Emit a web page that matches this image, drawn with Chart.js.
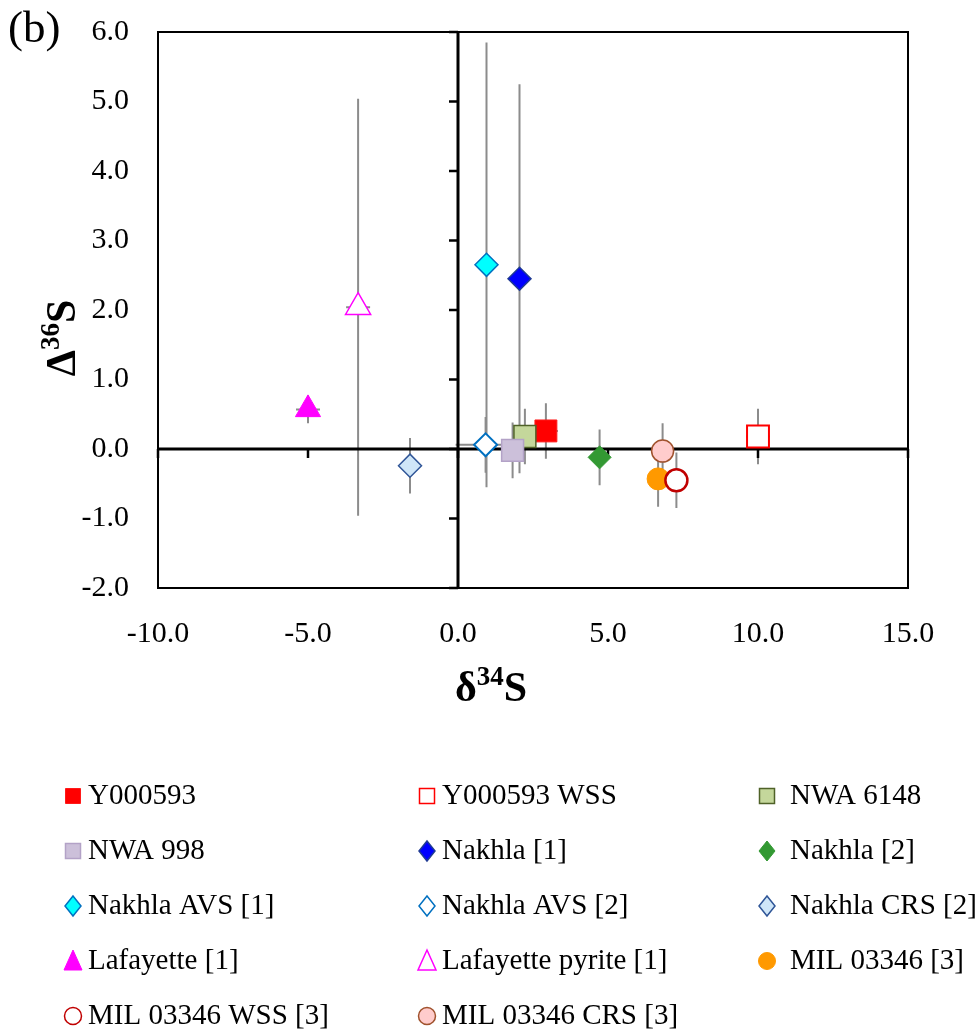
<!DOCTYPE html>
<html>
<head>
<meta charset="utf-8">
<script src="https://cdn.jsdelivr.net/npm/chart.js@4.4.1/dist/chart.umd.min.js"></script>
<style>
    html, body { margin: 0; padding: 0; background: #ffffff; }
    canvas { display: block; }
</style>
</head>
<body>
<canvas id="sulfurChart" width="980" height="1032"></canvas>
<script>
const sampleNames = [
    'Y000593', 'Y000593 WSS', 'NWA 6148',
    'NWA 998', 'Nakhla [1]', 'Nakhla [2]',
    'Nakhla AVS [1]', 'Nakhla AVS [2]', 'Nakhla CRS [2]',
    'Lafayette [1]', 'Lafayette pyrite [1]', 'MIL 03346 [3]',
    'MIL 03346 WSS [3]', 'MIL 03346 CRS [3]',
];
const delta34S = [2.93, 10.0, 2.23, 1.82, 2.05, 4.72, 0.95, 0.92, -1.6, -5.0, -3.33, 6.67, 7.28, 6.82];
const cap36S = [0.26, 0.18, 0.18, -0.02, 2.45, -0.12, 2.65, 0.06, -0.24, 0.57, 2.04, -0.43, -0.45, -0.03];
const delta34SErr = [0.4, 0.4, 0.3, 0.3, 0.3, 0.3, 0.3, 1.0, 0.3, 0.4, 0.4, 0.3, 0.3, 0.3];
const cap36SErr = [0.4, 0.4, 0.4, 0.4, 2.8, 0.4, 3.2, 0.4, 0.4, 0.2, 3.0, 0.4, 0.4, 0.4];
const xTicks = [-10, -5, 0, 5, 10, 15];
const yTicks = [-2, -1, 0, 1, 2, 3, 4, 5, 6];

// marker look per sample, same order as sampleNames
const markerStyles = [
    { shape: 'rect', fill: '#ff0000', stroke: '#ff1a1a', width: 1 },
    { shape: 'rect', fill: '#ffffff', stroke: '#ff0000', width: 2 },
    { shape: 'rect', fill: '#c4d79b', stroke: '#4f6228', width: 1.5 },
    { shape: 'rect', fill: '#ccc0da', stroke: '#b3a2c7', width: 1.5 },
    { shape: 'rectRot', fill: '#0000ff', stroke: '#1f3a93', width: 1.5 },
    { shape: 'rectRot', fill: '#339933', stroke: '#339933', width: 1 },
    { shape: 'rectRot', fill: '#00ffff', stroke: '#0070c0', width: 1.5 },
    { shape: 'rectRot', fill: '#ffffff', stroke: '#0070c0', width: 2 },
    { shape: 'rectRot', fill: '#cfe6f8', stroke: '#2f5597', width: 1.5 },
    { shape: 'triangle', fill: '#ff00ff', stroke: '#ff00ff', width: 1 },
    { shape: 'triangle', fill: '#ffffff', stroke: '#ff00ff', width: 1.5 },
    { shape: 'circle', fill: '#ff9900', stroke: '#ff9900', width: 1 },
    { shape: 'circle', fill: '#ffffff', stroke: '#c00000', width: 2.5 },
    { shape: 'circle', fill: '#ffcccc', stroke: '#a0522d', width: 1.5 },
];
const markerRadius = { rect: 15.5, rectRot: 11.5, triangle: 14.5, circle: 11 };

const serif = '"Liberation Serif", "Times New Roman", serif';

function drawLegendMarker(ctx, style, cx, cy) {
    ctx.fillStyle = style.fill;
    ctx.strokeStyle = style.stroke;
    ctx.lineWidth = Math.min(style.width, 1.5);
    ctx.beginPath();
    if (style.shape === 'rect') {
        ctx.rect(cx - 7.5, cy - 7.5, 15, 15);
    } else if (style.shape === 'rectRot') {
        ctx.moveTo(cx, cy - 10);
        ctx.lineTo(cx + 8, cy);
        ctx.lineTo(cx, cy + 10);
        ctx.lineTo(cx - 8, cy);
        ctx.closePath();
    } else if (style.shape === 'triangle') {
        ctx.moveTo(cx, cy - 11);
        ctx.lineTo(cx + 9, cy + 9);
        ctx.lineTo(cx - 9, cy + 9);
        ctx.closePath();
    } else {
        ctx.arc(cx, cy, 8.5, 0, Math.PI * 2);
    }
    ctx.fill();
    ctx.stroke();
}

function drawSuperTitle(ctx, base, sup, tail, cx, cy) {
    const bigFont = 'bold 42px ' + serif;
    const smallFont = 'bold 27px ' + serif;
    ctx.font = bigFont;
    const wBase = ctx.measureText(base).width;
    const wTail = ctx.measureText(tail).width;
    ctx.font = smallFont;
    const wSup = ctx.measureText(sup).width;
    let x = cx - (wBase + wSup + wTail) / 2;
    ctx.textBaseline = 'alphabetic';
    ctx.textAlign = 'left';
    ctx.fillStyle = '#000000';
    ctx.font = bigFont;
    ctx.fillText(base, x, cy);
    x += wBase;
    ctx.font = smallFont;
    ctx.fillText(sup, x, cy - 16);
    x += wSup;
    ctx.font = bigFont;
    ctx.fillText(tail, x, cy);
}

const crossAxesAndErrors = {
    id: 'crossAxesAndErrors',
    beforeDatasetsDraw(chart) {
        const { ctx, scales: { x, y } } = chart;
        const x0 = x.getPixelForValue(0);
        const y0 = y.getPixelForValue(0);
        ctx.save();

        // error bars
        ctx.strokeStyle = '#8c8c8c';
        ctx.lineWidth = 2;
        sampleNames.forEach((name, i) => {
            const px = x.getPixelForValue(delta34S[i]);
            const py = y.getPixelForValue(cap36S[i]);
            ctx.beginPath();
            ctx.moveTo(px, y.getPixelForValue(cap36S[i] + cap36SErr[i]));
            ctx.lineTo(px, y.getPixelForValue(cap36S[i] - cap36SErr[i]));
            ctx.moveTo(x.getPixelForValue(delta34S[i] - delta34SErr[i]), py);
            ctx.lineTo(x.getPixelForValue(delta34S[i] + delta34SErr[i]), py);
            ctx.stroke();
        });

        // axes crossing at zero
        ctx.strokeStyle = '#000000';
        ctx.lineWidth = 3;
        ctx.beginPath();
        ctx.moveTo(chart.chartArea.left, y0);
        ctx.lineTo(chart.chartArea.right, y0);
        ctx.moveTo(x0, chart.chartArea.top);
        ctx.lineTo(x0, chart.chartArea.bottom);
        ctx.stroke();

        ctx.lineWidth = 2.5;
        ctx.beginPath();
        yTicks.forEach((v) => {
            const py = y.getPixelForValue(v);
            ctx.moveTo(x0 - 9, py);
            ctx.lineTo(x0, py);
        });
        xTicks.forEach((v) => {
            const px = x.getPixelForValue(v);
            ctx.moveTo(px, y0);
            ctx.lineTo(px, y0 + 9);
        });
        ctx.stroke();
        ctx.restore();
    },
    afterDatasetsDraw(chart) {
        const { ctx, chartArea } = chart;
        ctx.save();
        ctx.strokeStyle = '#000000';
        ctx.lineWidth = 2;
        ctx.strokeRect(chartArea.left, chartArea.top,
            chartArea.right - chartArea.left, chartArea.bottom - chartArea.top);
        ctx.restore();
    },
    afterDraw(chart) {
        const { ctx } = chart;
        ctx.save();

        // panel label
        ctx.fillStyle = '#000000';
        ctx.font = '45px ' + serif;
        ctx.textAlign = 'left';
        ctx.textBaseline = 'middle';
        ctx.fillText('(b)', 8, 30);

        // axis titles
        drawSuperTitle(ctx, 'δ', '34', 'S', 491, 701);
        ctx.save();
        ctx.translate(75, 338);
        ctx.rotate(-Math.PI / 2);
        drawSuperTitle(ctx, 'Δ', '36', 'S', 0, 0);
        ctx.restore();

        // legend, three columns
        const markerX = [73, 427, 767];
        const textX = [88, 442, 790];
        ctx.font = '29px ' + serif;
        sampleNames.forEach((name, i) => {
            const col = i % 3;
            const row = Math.floor(i / 3);
            const cy = 796 + row * 55;
            drawLegendMarker(ctx, markerStyles[i], markerX[col], cy);
            ctx.fillStyle = '#000000';
            ctx.textAlign = 'left';
            ctx.textBaseline = 'middle';
            ctx.fillText(name, textX[col], cy);
        });
        ctx.restore();
    },
};

new Chart(document.getElementById('sulfurChart'), {
    type: 'scatter',
    data: {
        datasets: sampleNames.map((name, i) => ({
            label: name,
            data: [{ x: delta34S[i], y: cap36S[i] }],
            pointStyle: markerStyles[i].shape,
            pointRadius: markerRadius[markerStyles[i].shape],
            pointHoverRadius: markerRadius[markerStyles[i].shape],
            pointBackgroundColor: markerStyles[i].fill,
            pointBorderColor: markerStyles[i].stroke,
            pointBorderWidth: markerStyles[i].width,
            order: sampleNames.length - i,
        })),
    },
    options: {
        responsive: false,
        animation: false,
        layout: {
            padding: { top: 32, right: 72, left: 0, bottom: 384 },
        },
        plugins: {
            legend: { display: false },
            tooltip: { enabled: false },
        },
        scales: {
            x: {
                type: 'linear',
                min: xTicks[0],
                max: xTicks[xTicks.length - 1],
                afterBuildTicks: (scale) => {
                    scale.ticks = xTicks.map((value) => ({ value }));
                },
                afterFit: (scale) => {
                    scale.height = 60;
                },
                grid: { display: false },
                border: { display: false },
                ticks: {
                    color: '#000000',
                    padding: 20,
                    maxRotation: 0,
                    font: { family: serif, size: 30 },
                    callback: (value) => Number(value).toFixed(1),
                },
            },
            y: {
                type: 'linear',
                min: yTicks[0],
                max: yTicks[yTicks.length - 1],
                afterBuildTicks: (scale) => {
                    scale.ticks = yTicks.map((value) => ({ value }));
                },
                afterFit: (scale) => {
                    scale.width = 158;
                },
                // invisible tick marks only push the labels away from the frame
                grid: {
                    display: true,
                    drawOnChartArea: false,
                    drawTicks: true,
                    tickLength: 29,
                    color: 'rgba(0, 0, 0, 0)',
                },
                border: { display: false },
                ticks: {
                    color: '#000000',
                    padding: 0,
                    font: { family: serif, size: 30 },
                    callback: (value) => Number(value).toFixed(1),
                },
            },
        },
    },
    plugins: [crossAxesAndErrors],
});
</script>
</body>
</html>
